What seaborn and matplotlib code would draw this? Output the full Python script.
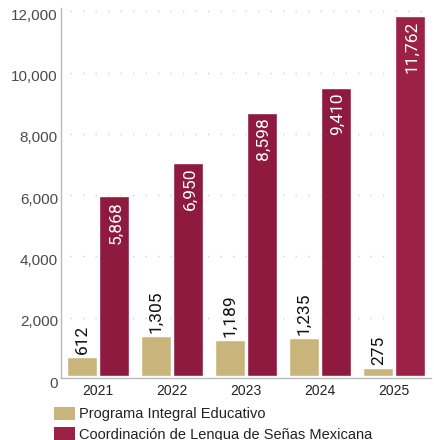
import matplotlib
matplotlib.use("Agg")
import matplotlib.pyplot as plt
import matplotlib.transforms as mtrans
from matplotlib import font_manager
from matplotlib.patches import Patch
import seaborn as sns
import pandas as pd

years = ["2021", "2022", "2023", "2024", "2025"]
series_names = ["Programa Integral Educativo", "Coordinación de Lengua de Señas Mexicana"]
programa = [612, 1305, 1189, 1235, 275]
coordinacion = [5868, 6950, 8598, 9410, 11762]
yticks = [0, 2000, 4000, 6000, 8000, 10000, 12000]

TAN = "#C9B57C"
MAROON = "#8E1A40"
MAROON_LAST = "#9C2146"

df = pd.DataFrame({
    "year": years * 2,
    "serie": [series_names[0]] * len(years) + [series_names[1]] * len(years),
    "value": programa + coordinacion,
})

sns.set_theme(style="white")
plt.rcParams["font.family"] = ["Liberation Sans", "DejaVu Sans"]

installed = {f.name for f in font_manager.fontManager.ttflist}
narrow = "Liberation Sans Narrow" if "Liberation Sans Narrow" in installed else "Liberation Sans"
ysize = 13 if narrow == "Liberation Sans Narrow" else 11

fig = plt.figure(figsize=(4.35, 4.4), dpi=100)
ax = fig.add_axes([61 / 435, 1 - 378 / 440, 370 / 435, (378 - 8.4) / 440])

sns.barplot(data=df, x="year", y="value", hue="serie", order=years,
            hue_order=series_names, palette=[TAN, MAROON],
            width=0.851, gap=0.05, saturation=1, ax=ax, legend=False)

ax.containers[1][4].set_facecolor(MAROON_LAST)

ax.set_xlim(-0.5, 4.5)
ax.set_ylim(-65, 12000)
ax.set_xlabel("")
ax.set_ylabel("")

# gridlines (slightly offset as in the reference)
goff = mtrans.ScaledTranslation(0, -3 / 100, fig.dpi_scale_trans)
for t in yticks[1:]:
    ax.plot([0.025, 1], [t, t], transform=ax.get_yaxis_transform() + goff,
            color="#d0d0d0", lw=1, ls=(0, (1, 8)), zorder=0)

# y tick labels as text with offset
ax.set_yticks(yticks)
ax.set_yticklabels([])
ax.tick_params(axis="y", length=0)
loff = mtrans.ScaledTranslation(-3 / 100, -7.5 / 100, fig.dpi_scale_trans)
for t in yticks:
    ax.text(0, t, f"{t:,}", transform=ax.get_yaxis_transform() + loff,
            ha="right", va="center", fontsize=ysize, color="#4a4a4a", family=narrow)

ax.set_xticks(range(len(years)))
ax.set_xticklabels(years, fontsize=10, color="#222222")
ax.tick_params(axis="x", length=0, pad=4)
ax.set_xticks([0.5, 1.5, 2.5, 3.5], minor=True)
ax.tick_params(axis="x", which="minor", direction="in", length=5, width=1, color="#cccccc")

for side in ["top", "right"]:
    ax.spines[side].set_visible(False)
for side in ["left", "bottom"]:
    ax.spines[side].set_color("#bbbbbb")
    ax.spines[side].set_linewidth(1)

# value labels
for patch, v in zip(ax.containers[0], programa):
    ax.annotate(f"{v:,}", (patch.get_x() + patch.get_width() / 2, patch.get_height()),
                xytext=(0, 2), textcoords="offset points", rotation=90,
                ha="center", va="bottom", fontsize=12.5, color="#111111", family="Roboto")
for patch, v in zip(ax.containers[1], coordinacion):
    ax.annotate(f"{v:,}", (patch.get_x() + patch.get_width() / 2, patch.get_height()),
                xytext=(1.5, -3.5), textcoords="offset points", rotation=90,
                ha="center", va="top", fontsize=12.5, color="white", family="Roboto")

# legend
handles = [Patch(facecolor=TAN, edgecolor="none"), Patch(facecolor=MAROON_LAST, edgecolor="none")]
fig.legend(handles, series_names, loc="upper left", bbox_to_anchor=(54 / 435, 1 - 407 / 440),
           frameon=False, fontsize=10.5, handlelength=1.44, handleheight=0.96,
           handletextpad=0.27, labelspacing=0.4, borderpad=0, borderaxespad=0,
           labelcolor="#222222")

fig.savefig("out.png", dpi=100)
